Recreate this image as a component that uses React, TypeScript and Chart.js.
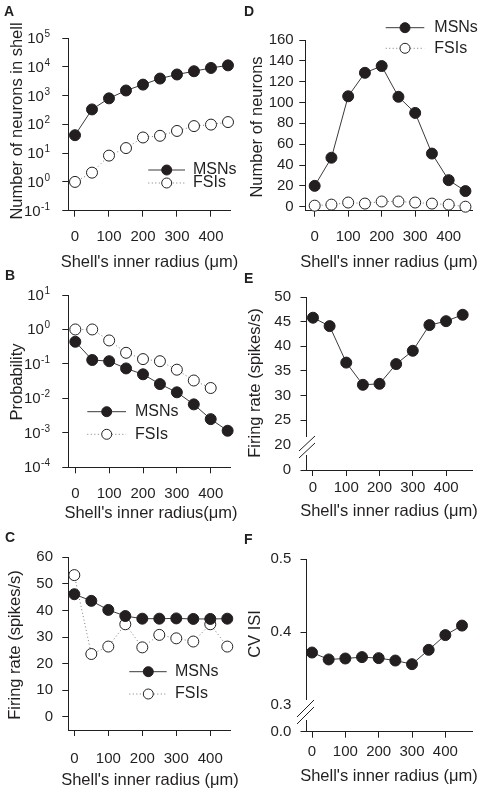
import React, { useEffect, useRef } from "react";
import { Chart, registerables } from "chart.js";

Chart.register(...registerables);

// ---------- data ----------
const radii = [0, 50, 100, 150, 200, 250, 300, 350, 400, 450];
const xTicks = [0, 100, 200, 300, 400];

// A: number of neurons in shell
const countMSN = [42, 330, 800, 1500, 2400, 3900, 5400, 7000, 9100, 11200];
const countFSI = [1, 2.1, 8.2, 15, 35, 40, 59, 87, 98, 120];
// B: probability
const probMSN = [0.44, 0.13, 0.12, 0.074, 0.05, 0.026, 0.015, 0.0067, 0.0025, 0.00115];
const probFSI = [1, 1, 0.48, 0.21, 0.138, 0.12, 0.068, 0.033, 0.02, null];
// C: firing rate
const rateMSN = [46.1, 43.6, 40.2, 37.9, 36.9, 36.9, 37.0, 36.8, 36.8, 36.9];
const rateFSI = [53.3, 23.6, 26.4, 34.8, 26.1, 30.8, 29.5, 28.3, 34.8, 26.4];
// D: number of neurons
const connMSN = [20, 47, 106, 128.5, 135, 105.5, 90, 51, 25.5, 15];
const connFSI = [1, 2, 4, 3, 5, 5, 4, 3, 2, 0];
// E: firing rate
const fireMSN = [45.8, 44.1, 36.7, 32.2, 32.4, 36.4, 39.1, 44.3, 45.1, 46.4];
// F: CV ISI
const cvMSN = [0.372, 0.3625, 0.3638, 0.3657, 0.3643, 0.361, 0.356, 0.3757, 0.3959, 0.409];

const ticksA = [1e-1, 1e0, 1e1, 1e2, 1e3, 1e4, 1e5];
const ticksB = [1e-4, 1e-3, 1e-2, 1e-1, 1e0, 1e1];
const ticksC = [0, 10, 20, 30, 40, 50, 60];
const ticksD = [0, 20, 40, 60, 80, 100, 120, 140, 160];
const ticksE = [20, 25, 30, 35, 40, 45, 50];
const ticksF = [0.3, 0.4, 0.5];

// ---------- style ----------
const FONT = '"Liberation Sans", Arial, Helvetica, sans-serif';
const INK = "#231f20";
const LINE = "#3a3a3a";
const DOT = "#7a7a7a";
const W = 483;
const H = 796;
const YW = 40;
const XH = 40;

type Series = { label: string; values: (number | null)[]; filled: boolean; dotted: boolean };
type Spec = {
  letter: string;
  letterPos: [number, number];
  area: { L: number; R: number; T: number; B: number };
  xMin: number;
  xMax: number;
  yMin: number;
  yMax: number;
  yLog: boolean;
  yTicks: number[];
  yFmt: (v: number) => string;
  zeroLabel?: string;
  yLabelRight: number;
  xLabelY: number;
  yTitle: string;
  yTitlePos: [number, number];
  xTitle: string;
  xTitlePos: [number, number];
  series: Series[];
  legend?: { rows: number[]; x1: number; x2: number; mx: number; tx: number };
  brk?: { gap: [number, number]; lines: number[][] };
};

const MSN = "MSNs";
const FSI = "FSIs";
const XT = "Shell's inner radius (\u03bcm)";

const panels: Spec[] = [
  {
    letter: "A",
    letterPos: [4, 12],
    area: { L: 68.3, R: 230, T: 38, B: 210.7 },
    xMin: -19.7, xMax: 455.9, yMin: 0.1, yMax: 1e5, yLog: true,
    yTicks: ticksA, yFmt: (v) => String(v),
    yLabelRight: 50, xLabelY: 237,
    yTitle: "Number of neurons in shell", yTitlePos: [17.5, 121],
    xTitle: XT, xTitlePos: [149.5, 262],
    series: [
      { label: MSN, values: countMSN, filled: true, dotted: false },
      { label: FSI, values: countFSI, filled: false, dotted: true },
    ],
    legend: { rows: [170, 183], x1: 148.3, x2: 185, mx: 166.7, tx: 193 },
  },
  {
    letter: "B",
    letterPos: [5, 276],
    area: { L: 68.3, R: 230, T: 295, B: 467.3 },
    xMin: -20.7, xMax: 457, yMin: 1e-4, yMax: 10, yLog: true,
    yTicks: ticksB, yFmt: (v) => String(v),
    yLabelRight: 50, xLabelY: 494,
    yTitle: "Probability", yTitlePos: [17, 382],
    xTitle: "Shell's inner radius(\u03bcm)", xTitlePos: [151, 513],
    series: [
      { label: MSN, values: probMSN, filled: true, dotted: false },
      { label: FSI, values: probFSI, filled: false, dotted: true },
    ],
    legend: { rows: [411.7, 434.3], x1: 87.3, x2: 126, mx: 106.7, tx: 135 },
  },
  {
    letter: "C",
    letterPos: [5, 538],
    area: { L: 68.3, R: 230, T: 557.3, B: 730 },
    xMin: -17.7, xMax: 458, yMin: -5, yMax: 60, yLog: false,
    yTicks: ticksC, yFmt: (v) => String(v),
    yLabelRight: 53, xLabelY: 759,
    yTitle: "Firing rate (spikes/s)", yTitlePos: [15.5, 645],
    xTitle: XT, xTitlePos: [150, 780],
    series: [
      { label: MSN, values: rateMSN, filled: true, dotted: false },
      { label: FSI, values: rateFSI, filled: false, dotted: true },
    ],
    legend: { rows: [671.7, 694], x1: 129.3, x2: 166.7, mx: 148.3, tx: 175 },
  },
  {
    letter: "D",
    letterPos: [244, 12],
    area: { L: 305.3, R: 472, T: 40, B: 210.7 },
    xMin: -28, xMax: 469.6, yMin: -3.84, yMax: 160, yLog: false,
    yTicks: ticksD, yFmt: (v) => String(v),
    yLabelRight: 293.7, xLabelY: 237,
    yTitle: "Number of neurons", yTitlePos: [257, 127],
    xTitle: XT, xTitlePos: [389, 262],
    series: [
      { label: MSN, values: connMSN, filled: true, dotted: false },
      { label: FSI, values: connFSI, filled: false, dotted: true },
    ],
    legend: { rows: [27.7, 48.3], x1: 385.7, x2: 424.3, mx: 405, tx: 434.3 },
  },
  {
    letter: "E",
    letterPos: [244, 279.5],
    area: { L: 306.5, R: 472, T: 297, B: 470 },
    xMin: -19.5, xMax: 478, yMin: 14.93, yMax: 50, yLog: false,
    yTicks: ticksE, yFmt: (v) => String(v), zeroLabel: "0",
    yLabelRight: 291, xLabelY: 487.7,
    yTitle: "Firing rate (spikes/s)", yTitlePos: [255.5, 383],
    xTitle: XT, xTitlePos: [389, 511.7],
    series: [{ label: MSN, values: fireMSN, filled: true, dotted: false }],
    brk: { gap: [437, 455], lines: [[299, 451, 315, 436], [299, 458, 315, 443]] },
  },
  {
    letter: "F",
    letterPos: [244, 540],
    area: { L: 306.5, R: 472, T: 559.3, B: 731.7 },
    xMin: -16.5, xMax: 480, yMin: 0.2633, yMax: 0.5, yLog: false,
    yTicks: ticksF, yFmt: (v) => v.toFixed(1), zeroLabel: "0.0",
    yLabelRight: 291.3, xLabelY: 751.7,
    yTitle: "CV ISI", yTitlePos: [255.5, 634],
    xTitle: XT, xTitlePos: [389, 776.7],
    series: [{ label: MSN, values: cvMSN, filled: true, dotted: false }],
    brk: { gap: [700, 720], lines: [[297, 717, 314, 700], [297, 724, 314, 707]] },
  },
];

function makeDeco(spec: Spec) {
  return {
    id: "deco" + spec.letter,
    afterDraw(chart: any) {
      const ctx: CanvasRenderingContext2D = chart.ctx;
      const xs = chart.scales.x;
      const ys = chart.scales.y;
      const ca = chart.chartArea;
      ctx.save();

      // axis break
      if (spec.brk) {
        ctx.fillStyle = "#fff";
        ctx.fillRect(ca.left - 9, spec.brk.gap[0], 12, spec.brk.gap[1] - spec.brk.gap[0]);
        ctx.strokeStyle = INK;
        ctx.lineWidth = 1;
        for (const [x1, y1, x2, y2] of spec.brk.lines) {
          ctx.beginPath();
          ctx.moveTo(x1, y1);
          ctx.lineTo(x2, y2);
          ctx.stroke();
        }
      }

      ctx.fillStyle = INK;
      // y tick labels
      for (const v of spec.yTicks) {
        const py = ys.getPixelForValue(v);
        if (spec.yLog) {
          const es = String(Math.round(Math.log10(v)));
          ctx.font = `10px ${FONT}`;
          const ew = ctx.measureText(es).width;
          ctx.textBaseline = "alphabetic";
          ctx.textAlign = "left";
          ctx.fillText(es, spec.yLabelRight - ew, py - 1);
          ctx.font = `15px ${FONT}`;
          ctx.textAlign = "right";
          ctx.fillText("10", spec.yLabelRight - ew - 0.5, py + 5);
        } else {
          ctx.font = `15px ${FONT}`;
          ctx.textAlign = "right";
          ctx.textBaseline = "middle";
          ctx.fillText(spec.yFmt(v), spec.yLabelRight, py);
        }
      }
      if (spec.zeroLabel) {
        ctx.font = `15px ${FONT}`;
        ctx.textAlign = "right";
        ctx.textBaseline = "middle";
        ctx.fillText(spec.zeroLabel, spec.yLabelRight, ys.getPixelForValue(spec.yMin));
      }

      // x tick labels
      ctx.font = `15px ${FONT}`;
      ctx.textAlign = "center";
      ctx.textBaseline = "middle";
      for (const v of xTicks) {
        ctx.fillText(String(v), xs.getPixelForValue(v), spec.xLabelY);
      }

      // titles
      ctx.font = `16.5px ${FONT}`;
      ctx.fillText(spec.xTitle, spec.xTitlePos[0], spec.xTitlePos[1]);
      ctx.save();
      ctx.translate(spec.yTitlePos[0], spec.yTitlePos[1]);
      ctx.rotate(-Math.PI / 2);
      ctx.fillText(spec.yTitle, 0, 0);
      ctx.restore();

      // panel letter
      ctx.font = `bold 14px ${FONT}`;
      ctx.textAlign = "left";
      ctx.fillText(spec.letter, spec.letterPos[0], spec.letterPos[1]);

      // legend
      if (spec.legend) {
        const lg = spec.legend;
        spec.series.forEach((s, i) => {
          const y = lg.rows[i];
          ctx.lineWidth = 1;
          ctx.strokeStyle = s.dotted ? DOT : LINE;
          ctx.setLineDash(s.dotted ? [1, 2.5] : []);
          ctx.beginPath();
          ctx.moveTo(lg.x1, y);
          ctx.lineTo(lg.x2, y);
          ctx.stroke();
          ctx.setLineDash([]);
          ctx.beginPath();
          ctx.arc(lg.mx, y, 5, 0, Math.PI * 2);
          ctx.fillStyle = s.filled ? INK : "#fff";
          ctx.fill();
          ctx.strokeStyle = INK;
          ctx.stroke();
          ctx.fillStyle = INK;
          ctx.font = `16px ${FONT}`;
          ctx.textAlign = "left";
          ctx.textBaseline = "middle";
          ctx.fillText(s.label, lg.tx, y);
        });
      }
      ctx.restore();
    },
  };
}

function PanelChart({ spec }: { spec: Spec }) {
  const ref = useRef<HTMLCanvasElement | null>(null);
  useEffect(() => {
    if (!ref.current) return;
    const a = spec.area;
    const yScaleTicks = spec.zeroLabel ? [spec.yMin, ...spec.yTicks] : spec.yTicks;
    const axisCommon = {
      grid: { drawOnChartArea: false, drawTicks: true, tickLength: 6, color: INK, lineWidth: 1 },
      border: { display: true, color: INK, width: 1 },
    };
    const chart = new Chart(ref.current, {
      type: "line",
      data: {
        datasets: spec.series.map((s) => ({
          label: s.label,
          data: radii
            .map((r, i) => (s.values[i] == null ? null : { x: r, y: s.values[i] as number }))
            .filter((p) => p !== null) as { x: number; y: number }[],
          borderColor: s.dotted ? DOT : LINE,
          borderWidth: 1,
          borderDash: s.dotted ? [1, 2.5] : [],
          pointRadius: 5.5,
          pointBackgroundColor: s.filled ? INK : "#ffffff",
          pointBorderColor: INK,
          pointBorderWidth: 1,
          tension: 0,
          fill: false,
          clip: false as any,
        })),
      },
      options: {
        animation: false,
        responsive: false,
        events: [],
        layout: {
          autoPadding: false,
          padding: { left: a.L - YW, top: a.T, right: W - a.R, bottom: H - a.B - XH },
        },
        plugins: { legend: { display: false }, tooltip: { enabled: false } },
        scales: {
          x: {
            type: "linear",
            min: spec.xMin,
            max: spec.xMax,
            ...axisCommon,
            ticks: { autoSkip: false, callback: () => "" },
            afterBuildTicks: (s: any) => {
              s.ticks = xTicks.map((v) => ({ value: v }));
            },
            afterFit: (s: any) => {
              s.height = XH;
            },
          },
          y: {
            type: spec.yLog ? "logarithmic" : "linear",
            min: spec.yMin,
            max: spec.yMax,
            ...axisCommon,
            ticks: { autoSkip: false, callback: () => "" },
            afterBuildTicks: (s: any) => {
              s.ticks = yScaleTicks.map((v) => ({ value: v }));
            },
            afterFit: (s: any) => {
              s.width = YW;
            },
          },
        } as any,
      },
      plugins: [makeDeco(spec)],
    } as any);
    return () => chart.destroy();
  }, [spec]);
  return (
    <canvas
      ref={ref}
      width={W}
      height={H}
      style={{ position: "absolute", left: 0, top: 0, width: W, height: H }}
    />
  );
}

export default function App() {
  return (
    <div
      style={{
        position: "absolute",
        left: 0,
        top: 0,
        width: W,
        height: H,
        background: "#ffffff",
        overflow: "hidden",
      }}
    >
      {panels.map((p) => (
        <PanelChart key={p.letter} spec={p} />
      ))}
    </div>
  );
}
